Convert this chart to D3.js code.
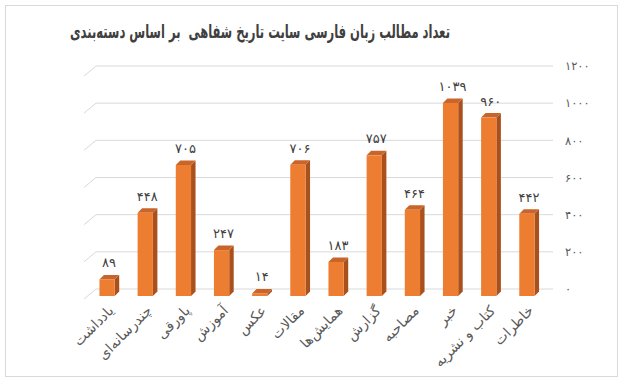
<!DOCTYPE html>
<html>
<head>
<meta charset="utf-8">
<script src="https://cdnjs.cloudflare.com/ajax/libs/d3/7.8.5/d3.min.js"></script>
<style>
  body { margin: 0; background: #fff; }
  text { font-family: 'DejaVu Sans', sans-serif; }
</style>
</head>
<body>
<svg id="chart" width="624" height="385"></svg>
<script>
/* global d3 */

let categories = ['یادداشت', 'چندرسانه‌ای', 'پاورقی', 'آموزش', 'عکس', 'مقالات', 'همایش‌ها', 'گزارش', 'مصاحبه', 'خبر', 'کتاب و نشریه', 'خاطرات']
let values = [89, 448, 705, 247, 14, 706, 183, 757, 464, 1039, 960, 442]
let yTicks = [0, 200, 400, 600, 800, 1000, 1200]
let title = 'تعداد مطالب زبان فارسی سایت تاریخ شفاهی  بر اساس دسته‌بندی'

let colors = {front: '#ed7d31', top: '#c9652a', side: '#a9501d', grid: '#d9d9d9', text: '#595959', dark: '#404040'}
let depth = {x: 4.5, y: 4.5}
let drop = 7 // bars stand in front of the back wall

let faDigits = function (n) {
  return String(n).replace(/\d/g, function (d) { return '۰۱۲۳۴۵۶۷۸۹'[d] })
}

let svg = d3.select('#chart')

svg.append('rect')
  .attr('x', 5.5)
  .attr('y', 5.5)
  .attr('width', 612)
  .attr('height', 371)
  .attr('fill', '#fff')
  .attr('stroke', colors.grid)
  .attr('stroke-width', 1)

// the title font is much wider than the original, squeeze it to the same width
let titleText = svg.append('text')
  .text(title)
  .attr('x', 0)
  .attr('y', 0)
  .attr('text-anchor', 'middle')
  .style('white-space', 'pre')
  .style('font-size', '19px')
  .style('font-weight', 'bold')
  .attr('fill', colors.dark)
let titleScale = 380 / titleText.node().getComputedTextLength()
titleText.attr('transform', 'translate(260,38) scale(' + titleScale + ',1)')

let x = d3.scaleBand()
  .domain(categories)
  .range([88, 546])
  .paddingInner(0.6)
  .paddingOuter(0.3)

let y = d3.scaleLinear()
  .domain([0, 1200])
  .range([289, 66])

// back wall grid with the floor diagonal on the left
let grid = svg.append('g')
grid.selectAll('line.h')
  .data(yTicks)
  .join('line')
  .attr('class', 'h')
  .attr('x1', 96)
  .attr('x2', 553)
  .attr('y1', d => y(d))
  .attr('y2', d => y(d))
  .attr('stroke', colors.grid)
grid.selectAll('line.d')
  .data(yTicks)
  .join('line')
  .attr('class', 'd')
  .attr('x1', 84)
  .attr('x2', 96)
  .attr('y1', d => y(d) + 10)
  .attr('y2', d => y(d))
  .attr('stroke', colors.grid)

let yAxis = svg.append('g')
  .attr('transform', 'translate(559,0)')
  .call(d3.axisRight(y).tickValues(yTicks).tickFormat(faDigits).tickSize(0).tickPadding(6))
yAxis.select('.domain').remove()
yAxis.selectAll('text')
  .style('font-size', '11.5px')
  .style('font-family', "'DejaVu Sans', sans-serif")
  .attr('fill', colors.text)

let bars = svg.append('g')
  .selectAll('g')
  .data(values)
  .join('g')

let w = x.bandwidth()
bars.append('path')
  .attr('fill', colors.side)
  .attr('d', function (d, i) {
    let x1 = x(categories[i]) + w
    let top = y(d) + drop
    let bot = y(0) + drop
    return 'M' + x1 + ',' + top + 'L' + (x1 + depth.x) + ',' + (top - depth.y) + 'L' + (x1 + depth.x) + ',' + (bot - depth.y) + 'L' + x1 + ',' + bot + 'Z'
  })
bars.append('path')
  .attr('fill', colors.top)
  .attr('d', function (d, i) {
    let x0 = x(categories[i])
    let top = y(d) + drop
    return 'M' + x0 + ',' + top + 'L' + (x0 + depth.x) + ',' + (top - depth.y) + 'L' + (x0 + w + depth.x) + ',' + (top - depth.y) + 'L' + (x0 + w) + ',' + top + 'Z'
  })
bars.append('rect')
  .attr('fill', colors.front)
  .attr('x', (d, i) => x(categories[i]))
  .attr('y', d => y(d) + drop)
  .attr('width', w)
  .attr('height', d => y(0) - y(d))

bars.append('text')
  .text(d => faDigits(d))
  .attr('x', (d, i) => x(categories[i]) + w * 0.5 + 2)
  .attr('y', d => y(d) + drop - 12)
  .attr('text-anchor', 'middle')
  .style('font-size', '13px')
  .attr('fill', colors.dark)

let xAxis = svg.append('g')
  .attr('transform', 'translate(0,' + (y(0) + drop) + ')')
  .call(d3.axisBottom(x).tickSize(0).tickPadding(0))
xAxis.select('.domain').remove()
xAxis.selectAll('text')
  .attr('text-anchor', 'end')
  .attr('dy', '0.35em')
  .attr('transform', 'translate(4,12) rotate(-45)')
  .style('font-size', '14px')
  .style('font-family', "'DejaVu Sans', sans-serif")
  .attr('fill', colors.text)
</script>
</body>
</html>
